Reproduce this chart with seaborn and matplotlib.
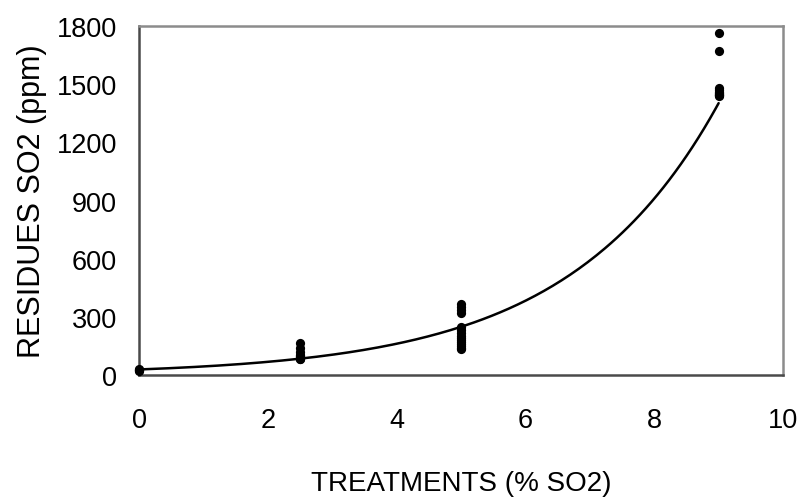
import numpy as np
import pandas as pd
import matplotlib
matplotlib.use("Agg")
import matplotlib.pyplot as plt
import seaborn as sns

# SO2 treatment level (%) and measured residues (ppm) for each sample
treatment_0 = [0] * 4
residue_0 = [20, 24, 28, 32]
treatment_25 = [2.5] * 9
residue_25 = [82, 85, 88, 92, 96, 105, 120, 140, 165]
treatment_5 = [5] * 15
residue_5 = [135, 140, 150, 160, 170, 180, 190, 200, 215, 230, 250, 318, 335, 350, 365]
treatment_9 = [9] * 10
residue_9 = [1438, 1442, 1446, 1450, 1455, 1462, 1470, 1480, 1672, 1765]

x_ticks = [0, 2, 4, 6, 8, 10]
y_ticks = [0, 300, 600, 900, 1200, 1500, 1800]

sns.set_theme(style="white")
plt.rcParams["font.family"] = ["Liberation Sans", "DejaVu Sans"]
plt.rcParams["text.color"] = "black"
plt.rcParams["axes.labelcolor"] = "black"
plt.rcParams["xtick.color"] = "black"
plt.rcParams["ytick.color"] = "black"

df = pd.DataFrame({
    "treatment": treatment_0 + treatment_25 + treatment_5 + treatment_9,
    "residue": residue_0 + residue_25 + residue_5 + residue_9,
})

# exponential trend (least squares on log residues)
b, ln_a = np.polyfit(df["treatment"], np.log(df["residue"]), 1)
trend_x = np.linspace(0, df["treatment"].max(), 200)
trend = pd.DataFrame({"treatment": trend_x, "residue": np.exp(ln_a) * np.exp(b * trend_x)})

fig = plt.figure(figsize=(8.05, 5.02), dpi=100)
ax = fig.add_axes([0.1727, 0.251, 0.8, 0.695])

sns.lineplot(data=trend, x="treatment", y="residue", color="black", linewidth=1.8, ax=ax)
sns.scatterplot(data=df, x="treatment", y="residue", color="black", s=44,
                edgecolor="black", linewidth=0, zorder=3, ax=ax, clip_on=False)

ax.set_xlim(0, 10)
ax.set_ylim(0, 1800)
ax.set_xticks(x_ticks)
ax.set_yticks(y_ticks)

tick_size = 19.5
ax.set_xticklabels([str(t) for t in x_ticks], fontsize=tick_size)
ax.set_yticklabels([str(t) for t in y_ticks], fontsize=tick_size)
ax.tick_params(axis="x", direction="out", length=6, width=1.2, color="#555555",
               labelcolor="black", pad=17)
ax.tick_params(axis="y", direction="out", length=6, width=1.2, color="#555555",
               labelcolor="black", pad=10)

ax.set_xlabel("TREATMENTS (% SO2)", fontsize=20, labelpad=27, color="black")
ax.set_ylabel("RESIDUES SO2 (ppm)", fontsize=22, labelpad=7, color="black")

for side in ["left", "bottom"]:
    ax.spines[side].set_color("#4a4a4a")
    ax.spines[side].set_linewidth(1.8)
for side in ["top", "right"]:
    ax.spines[side].set_color("#8c8c8c")
    ax.spines[side].set_linewidth(1.8)
    ax.spines[side].set_visible(True)

fig.savefig("out.png", dpi=100)
